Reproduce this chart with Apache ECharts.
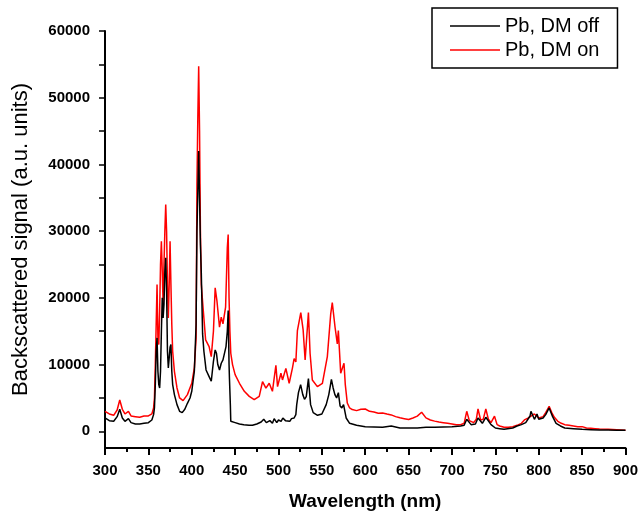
<!DOCTYPE html>
<html>
<head>
<meta charset="utf-8">
<script src="https://cdn.jsdelivr.net/npm/echarts@6/dist/echarts.min.js"></script>
<style>html,body{margin:0;padding:0;background:#fff;}#chart{width:641px;height:516px;}</style>
</head>
<body>
<div id="chart"></div>
<script>
var seriesNames = ['Pb, DM off', 'Pb, DM on'];
var yLabelValues = [0, 10000, 20000, 30000, 40000, 50000, 60000];
var yTickValues = [0, 5000, 10000, 15000, 20000, 25000, 30000, 35000, 40000, 45000, 50000, 55000, 60000];

var wavelengthOff = [300,305,310,314,317,320,323,327,330,335,340,345,350,354,356,357,358,359,360,361,362,363,364,365,366,367,368,369,370,371,372,373,374,375,376,377,378,380,383,386,389,392,395,398,400,403,405,406,407,408,409,410,411,412.5,414,416.5,420,422.5,425,427,428.5,430,432,434,436,439.5,441,442,443,443.5,444.5,445,450,455,460,466,470,475,480,483,486,490,493,495,498,500,503,505,508,510,513,515,518,520,521,523,525.5,528,530,532,534.5,537,540,545,550,555,558,561,563,565,567,569,571,573,575,578,582,590,600,610,620,630,640,650,660,670,680,690,700,710,714,717,722,727,730,735,739,745,750,755,760,770,775,780,785,790,791,793,795,798,800,805,808,812,816,820,825,830,840,850,860,870,880,890,900];
var signalOff = [2000,1600,1500,2200,3300,2000,1500,1900,1300,1100,1100,1200,1300,1700,2500,3500,7000,12000,14000,9000,7000,6500,9000,15000,20000,17000,19000,24000,26000,21000,12000,9500,11000,12600,13000,9000,7000,5500,4000,3000,2800,3300,4200,5000,6000,9000,16000,30000,36000,42000,35000,28000,23800,14600,12000,9200,8200,7500,10500,12200,11700,10000,9200,10200,10700,12700,15000,18100,10000,7800,4000,1500,1300,1100,1000,900,900,1100,1400,1800,1300,1600,1200,1900,1300,1700,1500,2000,1600,1800,1500,1900,2000,2500,4000,5800,7000,5500,4800,5200,7900,4000,2800,2400,2600,4000,5500,7800,6500,5500,5000,5800,3800,3500,4000,2000,1200,900,700,650,600,800,500,500,500,600,600,650,700,800,900,1800,1000,1100,2000,1200,2100,1000,500,400,300,500,800,1000,1300,2300,3000,2900,1800,2600,1800,2000,2500,3500,2200,1200,800,500,400,300,250,200,200,150,150];

var wavelengthOn = [300,305,310,314,317,320,323,327,330,335,340,345,350,354,356,357,358,359,360,361,362,363,364,365,366,367,368,369,370,371,372,373,374,375,376,377,378,380,383,386,390,395,400,403,405,406,407,408,409,410,411,413,416,420,422.5,425,427,429,432,434,436,439,441,442,443,444,445,447,450,455,460.6,466.3,472,477.8,481.6,485.5,489.3,493,497,498.9,502.8,504.6,508.5,512.3,516,518,520,521.8,525.7,528.4,530.7,534.5,536.4,539,544.8,550.6,556.3,560.2,562,565.2,567.8,569,571.7,575.5,577,579.3,582,585,590,595,600,605,610,615,620,625,630,635,640,645,650,655,660,665,670,675,680,685,690,695,700,705,710,714,717,720,725,728,730,733,736,739,742,745,749,752,755,760,765,770,775,780,784,788,790,795,800,805,808,812,815,818,822,826,830,835,840,845,850,855,860,865,870,880,890,900];
var signalOn = [3000,2600,2400,3200,4700,3300,2600,3000,2300,2200,2100,2300,2300,2600,3500,5000,10000,16000,22000,14000,13000,18000,25000,28500,24000,19000,25000,30000,34000,30000,22000,17000,22000,28500,22000,16000,12000,9000,6500,5000,4600,5500,7200,9500,14000,37000,47000,54700,45000,30000,22000,18600,13700,12700,11200,15000,21500,19600,15600,17100,16100,18600,27500,29500,20000,15000,11700,10000,8500,7200,6000,5240,4750,5240,7460,6470,7200,6000,9900,6700,8700,7700,9440,7200,9440,10900,10400,15100,17800,15200,10700,17800,11700,7700,6700,7200,11200,17600,19300,15600,13100,15100,8700,10200,7000,4250,3500,3260,3100,3300,3350,3000,2900,2700,2760,2600,2460,2200,2020,1900,1760,2000,2270,2860,2020,1700,1530,1400,1300,1200,1100,1000,1000,1200,3000,1600,1300,1800,3350,1700,1800,3350,1800,1300,2270,1000,800,600,600,700,900,1200,1760,2000,2270,2600,2000,2200,2800,3750,2800,2100,1500,1200,1000,900,800,700,700,500,450,400,350,300,250,150];

function zip(xs, ys) { return xs.map(function (x, i) { return [x, ys[i]]; }); }

var chart = echarts.init(document.getElementById('chart'), null, { renderer: 'canvas' });
var font = 'Liberation Sans, Arial, sans-serif';
chart.setOption({
  animation: false,
  backgroundColor: '#ffffff',
  grid: { left: 105, right: 14, top: 31, bottom: 65 },
  legend: {
    data: seriesNames,
    orient: 'vertical',
    left: 432, top: 8,
    padding: [8, 18, 8, 18],
    itemGap: 4,
    itemWidth: 50, itemHeight: 1.5,
    icon: 'rect',
    borderColor: '#000', borderWidth: 1.5,
    textStyle: { fontFamily: font, fontSize: 20, color: '#000' }
  },
  xAxis: {
    type: 'value', min: 300, max: 900, interval: 50,
    name: 'Wavelength (nm)', nameLocation: 'middle', nameGap: 44,
    nameTextStyle: { fontFamily: font, fontSize: 19, fontWeight: 'bold', color: '#000' },
    axisLine: { show: true, onZero: false, lineStyle: { color: '#000', width: 2 } },
    axisTick: { show: true, length: 7, lineStyle: { color: '#000', width: 2 } },
    minorTick: { show: true, splitNumber: 2, length: 4, lineStyle: { color: '#000', width: 2 } },
    axisLabel: { margin: 15, fontFamily: font, fontSize: 15, fontWeight: 'bold', color: '#000',
      formatter: function (v) { return String(v); } },
    splitLine: { show: false }
  },
  yAxis: {
    type: 'value', min: -2500, max: 60000,
    name: 'Backscattered signal (a.u. units)', nameLocation: 'middle', nameGap: 73,
    nameTextStyle: { fontFamily: font, fontSize: 22, color: '#000' },
    axisLine: { show: true, onZero: false, lineStyle: { color: '#000', width: 2 } },
    axisTick: { show: true, length: 6, lineStyle: { color: '#000', width: 1.5 }, customValues: yTickValues },
    axisLabel: { margin: 15, fontFamily: font, fontSize: 15, fontWeight: 'bold', color: '#000', customValues: yLabelValues,
      formatter: function (v) { return String(v); } },
    splitLine: { show: false }
  },
  series: [{
    name: seriesNames[0], type: 'line', z: 3, showSymbol: false, symbol: 'none',
    data: zip(wavelengthOff, signalOff),
    lineStyle: { color: '#000000', width: 1.5 }, itemStyle: { color: '#000000' }
  }, {
    name: seriesNames[1], type: 'line', z: 2, showSymbol: false, symbol: 'none',
    data: zip(wavelengthOn, signalOn),
    lineStyle: { color: '#ff0000', width: 1.5 }, itemStyle: { color: '#ff0000' }
  }]
});
</script>
</body>
</html>
